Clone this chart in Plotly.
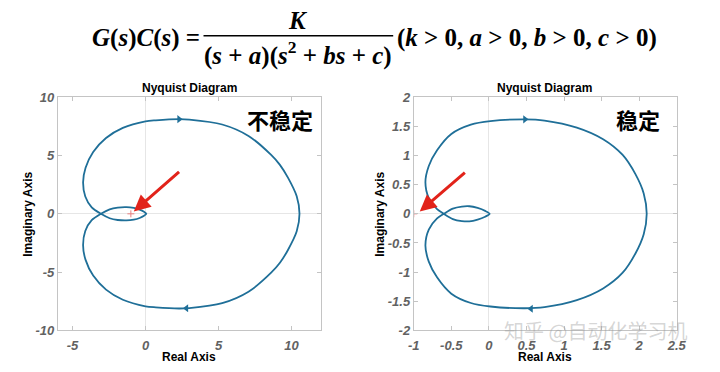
import plotly.graph_objects as go

# ---------------- data ----------------
# Left plot (unstable): closed Nyquist contour, starting at the tip near the origin
left_re = [0.06, -0.10, -0.40, -0.80, -1.30, -1.90, -2.45, -3.05,
           -3.68, -4.12, -4.27, -4.10, -3.58, -2.70, -1.55, 0.00, 0.70, 2.30, 3.00, 5.25, 7.05, 8.60, 9.20, 9.75, 10.35, 10.54,
           10.35, 9.75, 9.20, 8.60, 7.05, 5.25, 3.00, 2.30, 0.70, 0.00, -1.55, -2.70, -3.58, -4.10, -4.27, -4.12, -3.68, -3.05,
           -2.45, -1.90, -1.30, -0.80, -0.40, -0.10, 0.06]
left_im = [0.00, -0.17, -0.36, -0.50, -0.57, -0.53, -0.38, 0.00,
           0.55, 1.48, 2.70, 3.95, 5.30, 6.50, 7.37, 7.93, 8.02, 8.12, 8.08, 7.66, 6.68, 5.05, 4.20, 3.10, 1.50, 0.00,
           -1.50, -3.10, -4.20, -5.05, -6.68, -7.66, -8.08, -8.12, -8.02, -7.93, -7.37, -6.50, -5.30, -3.95, -2.70, -1.48, -0.55, 0.00,
           0.38, 0.53, 0.57, 0.50, 0.36, 0.17, 0.00]
left_dir_re = [2.30, 2.80]
left_dir_im = [8.12, -8.10]
left_arrow_from = (2.40, 3.70)
left_arrow_to = (-0.80, 0.20)

# Right plot (stable)
right_re = [0.010, -0.050, -0.150, -0.260, -0.360, -0.480, -0.600,
            -0.690, -0.800, -0.845, -0.800, -0.690, -0.500, -0.240, 0.020, 0.480, 0.740, 1.170, 1.520, 1.780, 1.950, 2.060, 2.100,
            2.060, 1.950, 1.780, 1.520, 1.170, 0.740, 0.480, 0.020, -0.240, -0.500, -0.690, -0.800, -0.845, -0.800, -0.690, -0.600,
            -0.480, -0.360, -0.260, -0.150, -0.050, 0.010]
right_im = [0.000, -0.050, -0.100, -0.130, -0.125, -0.090, 0.000,
            0.080, 0.270, 0.540, 0.820, 1.090, 1.370, 1.530, 1.590, 1.620, 1.600, 1.480, 1.280, 1.010, 0.680, 0.350, 0.000,
            -0.350, -0.680, -1.010, -1.280, -1.480, -1.600, -1.620, -1.590, -1.530, -1.370, -1.090, -0.820, -0.540, -0.270, -0.080, 0.000,
            0.090, 0.125, 0.130, 0.100, 0.050, 0.000]
right_dir_re = [0.48, 0.56]
right_dir_im = [1.62, -1.63]
right_arrow_from = (-0.30, 0.73)
right_arrow_to = (-0.92, 0.04)

critical_re = [-1.0]
critical_im = [0.0]

left_xticks = [-5, 0, 5, 10]
left_xtext = ["-5", "0", "5", "10"]
left_yticks = [-10, -5, 0, 5, 10]
left_ytext = ["-10", "-5", "0", "5", "10"]
right_xticks = [-1, -0.5, 0, 0.5, 1, 1.5, 2, 2.5]
right_xtext = ["-1", "-0.5", "0", "0.5", "1", "1.5", "2", "2.5"]
right_yticks = [-2, -1.5, -1, -0.5, 0, 0.5, 1, 1.5, 2]
right_ytext = ["-2", "-1.5", "-1", "-0.5", "0", "0.5", "1", "1.5", "2"]

# ---------------- styling ----------------
LINE = "#1f6f98"
RED = "#e2231a"
FRAME = "#c4c4c4"
TICKFONT = dict(family="Liberation Sans", size=13, color="#626262")

def bi(labels):
    return ["<b><i>%s</i></b>" % s for s in labels]

fig = go.Figure()

def add_panel(xs, ys, dre, dim, xa, ya):
    fig.add_trace(go.Scatter(x=xs, y=ys, mode="lines", line=dict(color=LINE, width=1.8, shape="spline", smoothing=0.8),
                             xaxis=xa, yaxis=ya, hoverinfo="skip"))
    fig.add_trace(go.Scatter(x=dre, y=dim, mode="markers",
                             marker=dict(symbol=["triangle-right", "triangle-left"], size=7, color=LINE),
                             xaxis=xa, yaxis=ya, hoverinfo="skip"))
    fig.add_trace(go.Scatter(x=critical_re, y=critical_im, mode="markers",
                             marker=dict(symbol="cross-thin", size=5, line=dict(color="#e88080", width=1)),
                             xaxis=xa, yaxis=ya, hoverinfo="skip"))

add_panel(left_re, left_im, left_dir_re, left_dir_im, "x", "y")
add_panel(right_re, right_im, right_dir_re, right_dir_im, "x2", "y2")

axis_common = dict(showgrid=False, zeroline=True, zerolinecolor="#e6e6e6", zerolinewidth=1,
                   showline=True, linecolor=FRAME, linewidth=1, mirror="ticks",
                   ticks="inside", ticklen=4, tickcolor=FRAME,
                   tickfont=TICKFONT, fixedrange=True)

fig.update_layout(
    width=720, height=372,
    margin=dict(l=0, r=0, t=0, b=0),
    paper_bgcolor="white", plot_bgcolor="white",
    showlegend=False,
    xaxis=dict(domain=[0.0736, 0.4472], range=[-6, 12], tickvals=left_xticks, ticktext=bi(left_xtext), anchor="y",
               ticklabelstandoff=3, **axis_common),
    yaxis=dict(domain=[0.0941, 0.7473], range=[-10, 10], tickvals=left_yticks, ticktext=bi(left_ytext), anchor="x", **axis_common),
    xaxis2=dict(domain=[0.5792, 0.9528], range=[-1, 2.5], tickvals=right_xticks, ticktext=bi(right_xtext), anchor="y2",
                ticklabelstandoff=3, **axis_common),
    yaxis2=dict(domain=[0.0941, 0.7473], range=[-2, 2], tickvals=right_yticks, ticktext=bi(right_ytext), anchor="x2", **axis_common),
)

ann = []
def arrow(frm, to, xr, yr):
    ann.append(dict(x=to[0], y=to[1], ax=frm[0], ay=frm[1], xref=xr, yref=yr, axref=xr, ayref=yr,
                    showarrow=True, arrowhead=2, arrowsize=1.1, arrowwidth=3, arrowcolor=RED, text=""))
arrow(left_arrow_from, left_arrow_to, "x", "y")
arrow(right_arrow_from, right_arrow_to, "x2", "y2")

def ptxt(text, x, y, size, family="Liberation Sans", color="black", xanchor="center", textangle=0):
    ann.append(dict(text=text, x=x, y=y, xref="paper", yref="paper", xanchor=xanchor, yanchor="middle",
                    showarrow=False, textangle=textangle, font=dict(family=family, size=size, color=color)))

# plot titles and axis titles
for cx in (187.5 / 720, 551 / 720):
    ptxt("<b>Nyquist Diagram</b>", cx, 1 - 84 / 372, 12)
    ptxt("<b>Real Axis</b>", cx, 1 - 365 / 372, 12)
ptxt("<b>Imaginary Axis</b>", 23 / 720, 1 - 216 / 372, 12, textangle=-90)
ptxt("<b>Imaginary Axis</b>", 383 / 720, 1 - 216 / 372, 12, textangle=-90)

# Chinese labels
ptxt("<b>不稳定</b>", 280 / 720, 1 - 117 / 372, 22, family="Noto Sans CJK SC")
ptxt("<b>稳定</b>", 646 / 720, 1 - 117 / 372, 22, family="Noto Sans CJK SC")

# formula
SERIF = "Liberation Serif"
ptxt("<b><i>G</i>(<i>s</i>)<i>C</i>(<i>s</i>) =</b>", 86 / 720, 1 - 32 / 372, 25, family=SERIF, xanchor="left")
ptxt("<b><i>K</i></b>", 299 / 720, 1 - 14 / 372, 25, family=SERIF)
ptxt("<b>(<i>s</i> + <i>a</i>)(<i>s</i><sup>2</sup> + <i>bs</i> + <i>c</i>)</b>", 299 / 720, 1 - 48 / 372, 25, family=SERIF)
ptxt("<b>(<i>k</i> > 0, <i>a</i> > 0, <i>b</i> > 0, <i>c</i> > 0)</b>", 398 / 720, 1 - 32 / 372, 25, family=SERIF, xanchor="left")

# watermark
ptxt("知乎 @自动化学习机", 603 / 720, 1 - 337 / 372, 20, family="Noto Sans CJK SC", color="rgba(150,150,150,0.4)")

fig.update_layout(annotations=ann,
                  shapes=[dict(type="line", xref="paper", yref="paper", x0=202 / 720, x1=396 / 720,
                               y0=1 - 30 / 372, y1=1 - 30 / 372, line=dict(color="black", width=1.5))])

fig.write_html("out.html", config={"displayModeBar": False, "staticPlot": True},
               post_script="document.body.style.margin='0';")
